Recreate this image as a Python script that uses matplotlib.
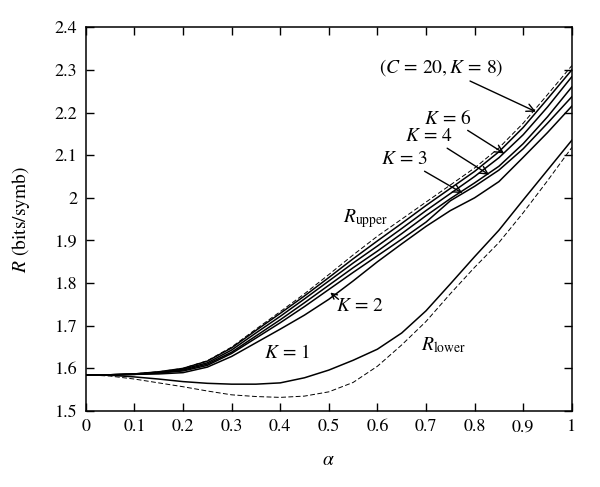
import numpy as np
import matplotlib.pyplot as plt

plt.rcParams['font.family'] = ['STIXGeneral', 'DejaVu Serif']
plt.rcParams['mathtext.fontset'] = 'stix'

# alpha grid
alpha = [0.0, 0.05, 0.1, 0.15, 0.2, 0.25, 0.3, 0.35, 0.4, 0.45, 0.5,
         0.55, 0.6, 0.65, 0.7, 0.75, 0.8, 0.85, 0.9, 0.95, 1.0]

r_upper = [1.585, 1.585, 1.587, 1.592, 1.600, 1.618, 1.650, 1.692, 1.733, 1.775, 1.820,
           1.866, 1.910, 1.950, 1.990, 2.030, 2.070, 2.117, 2.175, 2.242, 2.310]
k8 = [1.585, 1.585, 1.587, 1.592, 1.600, 1.617, 1.648, 1.689, 1.729, 1.770, 1.813,
      1.857, 1.899, 1.940, 1.982, 2.022, 2.062, 2.108, 2.165, 2.232, 2.300]
k6 = [1.585, 1.585, 1.587, 1.591, 1.598, 1.613, 1.643, 1.683, 1.722, 1.763, 1.805,
      1.847, 1.887, 1.928, 1.970, 2.010, 2.050, 2.094, 2.148, 2.213, 2.284]
k4 = [1.585, 1.585, 1.586, 1.590, 1.596, 1.610, 1.638, 1.676, 1.714, 1.754, 1.795,
      1.836, 1.875, 1.916, 1.958, 1.998, 2.035, 2.074, 2.127, 2.190, 2.260]
k3 = [1.585, 1.585, 1.586, 1.589, 1.594, 1.607, 1.635, 1.671, 1.707, 1.745, 1.785,
      1.825, 1.864, 1.903, 1.943, 1.993, 2.027, 2.065, 2.115, 2.175, 2.237]
k2 = [1.585, 1.585, 1.586, 1.587, 1.590, 1.603, 1.628, 1.660, 1.692, 1.725, 1.762,
      1.805, 1.850, 1.892, 1.933, 1.970, 2.000, 2.038, 2.095, 2.153, 2.215]
k1 = [1.585, 1.584, 1.580, 1.575, 1.569, 1.565, 1.563, 1.563, 1.566, 1.578, 1.596,
      1.619, 1.645, 1.683, 1.735, 1.798, 1.862, 1.924, 1.995, 2.065, 2.135]
r_lower = [1.585, 1.582, 1.575, 1.566, 1.557, 1.547, 1.538, 1.534, 1.532, 1.535, 1.545,
           1.567, 1.605, 1.655, 1.710, 1.775, 1.837, 1.895, 1.965, 2.040, 2.118]

fig = plt.figure(figsize=(6.0, 4.87), dpi=100)
ax = fig.add_axes([0.143, 0.156, 0.81, 0.788])

dash = (0, (5, 2.5))
ax.plot(alpha, r_upper, color='black', lw=0.7, linestyle=dash)
ax.plot(alpha, r_lower, color='black', lw=0.7, linestyle=dash)
for s in [k8, k6, k4, k3, k2, k1]:
    ax.plot(alpha, s, color='black', lw=1.1)

ax.set_xlim(0, 1)
ax.set_ylim(1.5, 2.4)
ax.set_xticks(np.arange(0, 1.01, 0.1))
ax.set_xticklabels(['0', '0.1', '0.2', '0.3', '0.4', '0.5', '0.6', '0.7', '0.8', '0.9', '1'])
ax.set_yticks(np.arange(1.5, 2.41, 0.1))
ax.set_yticklabels(['1.5', '1.6', '1.7', '1.8', '1.9', '2', '2.1', '2.2', '2.3', '2.4'])
ax.tick_params(direction='in', length=5.5, width=1, top=True, right=True,
               labelsize=13, pad=6)
for sp in ax.spines.values():
    sp.set_linewidth(1.1)

ax.set_xlabel(r'$\alpha$', fontsize=14, labelpad=12)
ax.set_ylabel(r'$R$ (bits/symb)', fontsize=14, labelpad=16)

arr = dict(arrowstyle='->', color='black', lw=1.0, shrinkA=0, shrinkB=0)
fs = 14
ax.annotate(r'$(C\, =\, 20, K\, =\, 8)$', xy=(0.926, 2.202), xytext=(0.86, 2.305),
            fontsize=fs, ha='right', va='center', arrowprops=arr)
ax.annotate(r'$K\, =\, 6$', xy=(0.861, 2.104), xytext=(0.795, 2.187),
            fontsize=fs, ha='right', va='center', arrowprops=arr)
ax.annotate(r'$K\, =\, 4$', xy=(0.830, 2.054), xytext=(0.756, 2.143),
            fontsize=fs, ha='right', va='center', arrowprops=arr)
ax.annotate(r'$K\, =\, 3$', xy=(0.775, 2.011), xytext=(0.705, 2.089),
            fontsize=fs, ha='right', va='center', arrowprops=arr)
ax.annotate('', xy=(0.503, 1.778), xytext=(0.520, 1.762), arrowprops=arr)
ax.text(0.515, 1.745, r'$K\, =\, 2$', fontsize=fs, ha='left', va='center')
ax.text(0.366, 1.636, r'$K\, =\, 1$', fontsize=fs, ha='left', va='center')
ax.text(0.53, 1.952, r'$R_{\mathrm{upper}}$', fontsize=fs, ha='left', va='center')
ax.text(0.69, 1.655, r'$R_{\mathrm{lower}}$', fontsize=fs, ha='left', va='center')

fig.savefig('out.png', dpi=100)
